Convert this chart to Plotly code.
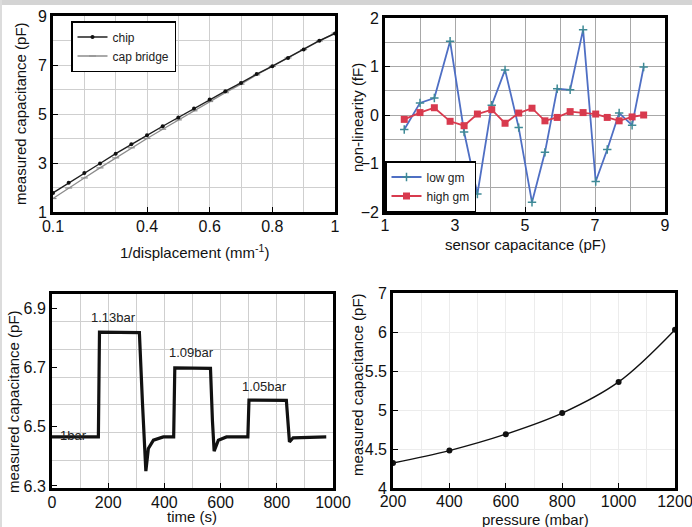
import plotly.graph_objects as go

W, H = 692, 527

# ---------------- Panel (a): capacitance vs 1/displacement ----------------
inv_disp = [0.1, 0.15, 0.2, 0.25, 0.3, 0.35, 0.4, 0.45, 0.5, 0.55, 0.6,
            0.65, 0.7, 0.75, 0.8, 0.85, 0.9, 0.95, 1.0]
chip_pf = [1.78, 2.19, 2.59, 2.98, 3.38, 3.77, 4.13, 4.50, 4.86, 5.22, 5.59,
           5.93, 6.27, 6.63, 6.95, 7.29, 7.63, 7.99, 8.29]
bridge_pf = [1.55, 1.98, 2.39, 2.80, 3.21, 3.62, 4.00, 4.38, 4.76, 5.13, 5.51,
             5.87, 6.22, 6.60, 6.94, 7.29, 7.63, 7.98, 8.30]
a_xticks = [0.1, 0.4, 0.6, 0.8, 1]
a_yticks = [1, 3, 5, 7, 9]

# ---------------- Panel (b): non-linearity ----------------
sensor_pf = [1.55, 2.0, 2.41, 2.86, 3.26, 3.64, 4.05, 4.43, 4.82, 5.2,
             5.57, 5.92, 6.29, 6.66, 7.02, 7.35, 7.69, 8.06, 8.39]
low_gm_ff = [-0.30, 0.25, 0.35, 1.52, -0.35, -1.63, 0.20, 0.93, -0.26, -1.80,
             -0.77, 0.54, 0.52, 1.76, -1.37, -0.71, 0.04, -0.21, 0.99]
high_gm_ff = [-0.09, 0.05, 0.15, -0.13, -0.22, 0.02, 0.11, -0.17, 0.04, 0.14,
              -0.12, -0.05, 0.07, 0.05, 0.02, -0.05, -0.12, -0.04, 0.00]
b_xticks = [1, 3, 5, 7, 9]
b_yticks = [-2, -1, 0, 1, 2]

# ---------------- Panel (c): capacitance vs time ----------------
time_s = [0, 165, 169, 311, 322, 334, 343, 361, 396, 433, 437, 564, 571, 577,
          592, 621, 697, 701, 834, 840, 845, 858, 976]
cap_time_pf = [6.466, 6.466, 6.821, 6.819, 6.58, 6.350, 6.427, 6.455, 6.466,
               6.466, 6.700, 6.698, 6.52, 6.418, 6.455, 6.466, 6.466, 6.591,
               6.590, 6.50, 6.449, 6.463, 6.466]
bar_labels = ["1bar", "1.13bar", "1.09bar", "1.05bar"]
bar_label_time = [75, 219, 497, 757]
bar_label_cap = [6.472, 6.871, 6.753, 6.637]
c_xticks = [0, 200, 400, 600, 800, 1000]
c_yticks = [6.3, 6.5, 6.7, 6.9]

# ---------------- Panel (d): capacitance vs pressure ----------------
pressure_mbar = [200, 400, 600, 800, 1000, 1200]
cap_pressure_pf = [4.32, 4.48, 4.69, 4.96, 5.36, 6.03]
d_xticks = [200, 400, 600, 800, 1000, 1200]
d_yticks = [4, 4.5, 5, 5.5, 6, 6.5]
d_yticktext = ["4", "4.5", "5", "5.5", "6", "7"]


def px_x(x0, x1):
    return [x0 / W, x1 / W]


def px_y(top, bottom):
    return [1 - bottom / H, 1 - top / H]


FONT = "Liberation Sans, Arial, sans-serif"

fig = go.Figure()

# (a)
fig.add_trace(go.Scatter(x=inv_disp, y=bridge_pf, name="cap bridge", mode="lines+markers",
                         line=dict(color="#8c8c8c", width=1.3),
                         marker=dict(symbol="line-ew", size=5, line=dict(color="#8c8c8c", width=1.2)),
                         xaxis="x", yaxis="y", legend="legend"))
fig.add_trace(go.Scatter(x=inv_disp, y=chip_pf, name="chip", mode="lines+markers",
                         line=dict(color="#202020", width=1.4),
                         marker=dict(symbol="circle", size=4, color="#111111"),
                         xaxis="x", yaxis="y", legend="legend"))

# (b)
fig.add_trace(go.Scatter(x=sensor_pf, y=low_gm_ff, name="low gm", mode="lines+markers",
                         line=dict(color="#4f6fc4", width=1.8),
                         marker=dict(symbol="cross-thin", size=6, line=dict(color="#3f8a96", width=1.5)),
                         xaxis="x2", yaxis="y2", legend="legend2"))
fig.add_trace(go.Scatter(x=sensor_pf, y=high_gm_ff, name="high gm", mode="lines+markers",
                         line=dict(color="#d83a4e", width=1.8),
                         marker=dict(symbol="square", size=7, color="#d83a4e"),
                         xaxis="x2", yaxis="y2", legend="legend2"))

# (c)
fig.add_trace(go.Scatter(x=time_s, y=cap_time_pf, mode="lines", showlegend=False,
                         line=dict(color="#111111", width=3.2),
                         xaxis="x3", yaxis="y3"))

# (d)
fig.add_trace(go.Scatter(x=pressure_mbar, y=cap_pressure_pf, mode="lines+markers", showlegend=False,
                         line=dict(color="#111111", width=1.4, shape="spline"),
                         marker=dict(symbol="circle", size=6, color="#111111"),
                         xaxis="x4", yaxis="y4"))

for txt, tx, ty in zip(bar_labels, bar_label_time, bar_label_cap):
    fig.add_annotation(x=tx, y=ty, xref="x3", yref="y3", text=txt, showarrow=False,
                       font=dict(size=13, color="#222222", family=FONT))

tickfont = dict(size=16, color="#111111", family=FONT)


def axis(domain, anchor, rng, tickvals, grid_color, minor_dtick, minor_tick0,
         ticktext=None, major_grid=True, lw=2.2, standoff=0):
    d = dict(domain=domain, anchor=anchor, range=rng, tickmode="array",
             tickvals=tickvals, showline=True, linecolor="#000000", linewidth=lw,
             mirror=True, ticks="inside", ticklen=5, tickcolor="#000000",
             showgrid=major_grid, gridcolor=grid_color, gridwidth=1,
             zeroline=False, tickfont=tickfont, automargin=False,
             ticklabelstandoff=standoff, ticklabeloverflow="allow",
             minor=dict(dtick=minor_dtick, tick0=minor_tick0, showgrid=True,
                        gridcolor=grid_color, gridwidth=1, ticks=""))
    if ticktext is not None:
        d["ticktext"] = ticktext
    return d


c_range = [6.293, 6.95]

fig.update_layout(
    template="none",
    width=W, height=H, autosize=False,
    margin=dict(l=0, r=0, t=0, b=0, pad=0),
    paper_bgcolor="white", plot_bgcolor="white",
    font=dict(family=FONT, color="#111111"),
    xaxis=axis(px_x(53, 335), "y", [0.1, 1.0], a_xticks, "#cfcfcf", 0.1, 0.1, lw=2.6, standoff=-2),
    yaxis=axis(px_y(16, 212), "x", [1, 9], a_yticks, "#cfcfcf", 1, 1, lw=2.6),
    xaxis2=axis(px_x(385, 665), "y2", [1, 9], b_xticks, "#a8a8a8", 1, 1, lw=2.6, standoff=-3),
    yaxis2=axis(px_y(18, 212), "x2", [-2, 2], b_yticks, "#a8a8a8", 0.5, -2, lw=2.6),
    xaxis3=axis(px_x(52, 333), "y3", [0, 1000], c_xticks, "#cfcfcf", 100, 0, lw=3, standoff=-2),
    yaxis3=axis(px_y(294, 488), "x3", c_range, c_yticks, "#cfcfcf",
                (c_range[1] - c_range[0]) / 7, c_range[0], major_grid=False, lw=3),
    xaxis4=axis(px_x(393, 675), "y4", [200, 1200], d_xticks, "#ececec", 100, 200, lw=2.6, standoff=-3),
    yaxis4=axis(px_y(293, 488), "x4", [4, 6.5], d_yticks, "#ececec", 0.5, 4,
                ticktext=d_yticktext, lw=2.6),
    legend=dict(x=71 / W, y=1 - 21 / H, xanchor="left", yanchor="top",
                bgcolor="white", bordercolor="#000000", borderwidth=1.5,
                font=dict(size=12, family=FONT, color="#222222"),
                traceorder="reversed", itemwidth=30, tracegroupgap=0),
    legend2=dict(x=385 / W, y=1 - 212 / H, xanchor="left", yanchor="bottom",
                 bgcolor="white", bordercolor="#000000", borderwidth=1.5,
                 font=dict(size=12, family=FONT, color="#222222"),
                 itemwidth=30, tracegroupgap=0),
    shapes=[
        dict(type="rect", xref="paper", yref="paper", x0=0, x1=1, y0=1 - 5 / H, y1=1,
             fillcolor="#d4d4d4", line=dict(width=0), layer="below"),
        dict(type="rect", xref="paper", yref="paper", x0=0, x1=2 / W, y0=0, y1=1,
             fillcolor="#dcdcdc", line=dict(width=0), layer="below"),
    ],
)

title_font = dict(size=15, family=FONT, color="#111111")
titles = [
    ("1/displacement (mm<sup>-1</sup>)", 194, 251, 0),
    ("measured capacitance (pF)", 20, 114, -90),
    ("sensor capacitance (pF)", 525, 244, 0),
    ("non-linearity (fF)", 358, 118, -90),
    ("time (s)", 192, 516, 0),
    ("measured capacitance (pF)", 13, 402, -90),
    ("pressure (mbar)", 535, 519, 0),
    ("measured capacitance (pF)", 357, 385, -90),
]
for txt, tx, ty, ang in titles:
    fig.add_annotation(x=tx / W, y=1 - ty / H, xref="paper", yref="paper", text=txt,
                       showarrow=False, textangle=ang, font=title_font,
                       xanchor="center", yanchor="middle")

fig.write_html("out.html", config={"displayModeBar": False},
               post_script="document.body.style.margin='0';")
